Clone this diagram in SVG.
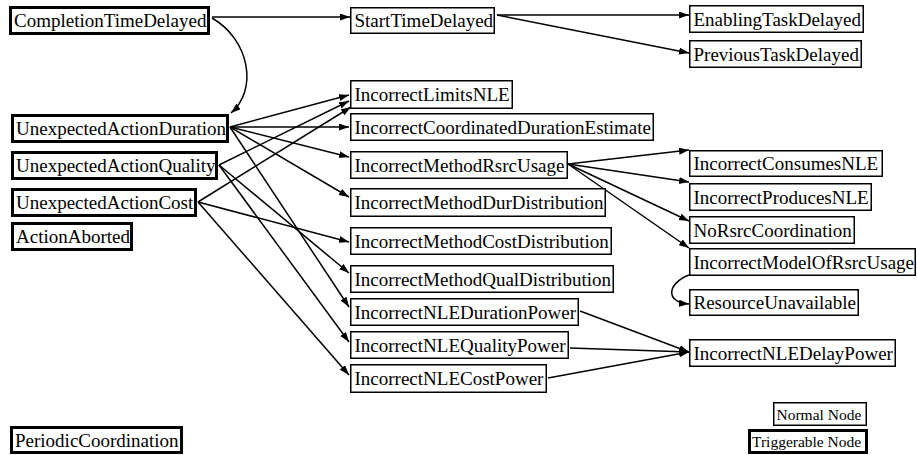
<svg xmlns="http://www.w3.org/2000/svg" width="917" height="455" viewBox="0 0 917 455">
<defs>
<marker id="ah" markerUnits="userSpaceOnUse" markerWidth="11" markerHeight="8" refX="10" refY="3.5" orient="auto">
<path d="M0,0 L10,3.5 L0,7 z" fill="#000"/>
</marker>
<style>
.n rect{fill:#fff;stroke:#000;stroke-width:1.5}
.t rect{fill:#fff;stroke:#000;stroke-width:3}
text{font-family:'Liberation Serif',serif;font-size:19px;fill:#000}
.s text{font-size:15.5px}
#edges path{fill:none;stroke:#000;stroke-width:1.5;marker-end:url(#ah)}
</style>
</defs>
<rect width="917" height="455" fill="#fff"/>
<g id="edges">
<path d="M212,17 L350,17"/>
<path d="M212,18 C250,40 258,90 231,113"/>
<path d="M497,15 L689,15"/>
<path d="M497,15 L689,53"/>
<path d="M230,127 L349,95"/>
<path d="M230,127 L349,127"/>
<path d="M230,127 L349,157"/>
<path d="M230,127 L349,197"/>
<path d="M230,127 L349,307"/>
<path d="M219,165 L349,101"/>
<path d="M219,165 L349,273"/>
<path d="M219,165 L349,342"/>
<path d="M198,202 L351,107"/>
<path d="M198,202 L349,242"/>
<path d="M198,202 L349,375"/>
<path d="M568,164 L689,150"/>
<path d="M568,164 L689,182"/>
<path d="M568,164 L689,221"/>
<path d="M568,164 L689,248"/>
<path d="M689,275 C668,283 664,302 689,304"/>
<path d="M580,311 L689,352"/>
<path d="M570,348 L689,352"/>
<path d="M548,378 L689,352"/>
</g>
<g font-family="Liberation Serif, serif">
<g id="CompletionTimeDelayed" class="t"><rect x="10.5" y="7.5" width="198" height="26"/><text x="14" y="27">CompletionTimeDelayed</text></g>
<g id="UnexpectedActionDuration" class="t"><rect x="12.5" y="115.5" width="215" height="26"/><text x="16" y="135">UnexpectedActionDuration</text></g>
<g id="UnexpectedActionQuality" class="t"><rect x="12.5" y="152.5" width="204" height="26"/><text x="16" y="172">UnexpectedActionQuality</text></g>
<g id="UnexpectedActionCost" class="t"><rect x="12.5" y="189.5" width="183" height="26"/><text x="16" y="209">UnexpectedActionCost</text></g>
<g id="ActionAborted" class="t"><rect x="12.5" y="223.5" width="119" height="26"/><text x="16" y="243">ActionAborted</text></g>
<g id="PeriodicCoordination" class="t"><rect x="11.5" y="427.5" width="170" height="25"/><text x="15" y="446.5">PeriodicCoordination</text></g>
<g id="StartTimeDelayed" class="n"><rect x="350.75" y="7.75" width="143.5" height="25.5"/><text x="354.5" y="27">StartTimeDelayed</text></g>
<g id="EnablingTaskDelayed" class="n"><rect x="689.75" y="5.75" width="173.5" height="26.5"/><text x="693.5" y="25.5">EnablingTaskDelayed</text></g>
<g id="PreviousTaskDelayed" class="n"><rect x="689.75" y="40.75" width="171.5" height="26.5"/><text x="693.5" y="60.5">PreviousTaskDelayed</text></g>
<g id="IncorrectLimitsNLE" class="n"><rect x="350.75" y="80.75" width="161.5" height="27.5"/><text x="354.5" y="101">IncorrectLimitsNLE</text></g>
<g id="IncorrectCoordinatedDurationEstimate" class="n"><rect x="350.75" y="113.75" width="302.5" height="26.5"/><text x="354.5" y="133.5">IncorrectCoordinatedDurationEstimate</text></g>
<g id="IncorrectMethodRsrcUsage" class="n"><rect x="350.75" y="151.75" width="216.5" height="26.5"/><text x="354.5" y="171.5">IncorrectMethodRsrcUsage</text></g>
<g id="IncorrectMethodDurDistribution" class="n"><rect x="350.75" y="188.75" width="254.5" height="27.5"/><text x="354.5" y="209">IncorrectMethodDurDistribution</text></g>
<g id="IncorrectMethodCostDistribution" class="n"><rect x="350.75" y="227.75" width="260.5" height="26.5"/><text x="354.5" y="247.5">IncorrectMethodCostDistribution</text></g>
<g id="IncorrectMethodQualDistribution" class="n"><rect x="350.75" y="265.75" width="262.5" height="26.5"/><text x="354.5" y="285.5">IncorrectMethodQualDistribution</text></g>
<g id="IncorrectNLEDurationPower" class="n"><rect x="350.75" y="298.75" width="227.5" height="26.5"/><text x="354.5" y="318.5">IncorrectNLEDurationPower</text></g>
<g id="IncorrectNLEQualityPower" class="n"><rect x="350.75" y="331.75" width="217.5" height="26.5"/><text x="354.5" y="351.5">IncorrectNLEQualityPower</text></g>
<g id="IncorrectNLECostPower" class="n"><rect x="350.75" y="364.75" width="195.5" height="27.5"/><text x="354.5" y="385">IncorrectNLECostPower</text></g>
<g id="IncorrectConsumesNLE" class="n"><rect x="689.75" y="150.75" width="192.5" height="25.5"/><text x="693.5" y="170">IncorrectConsumesNLE</text></g>
<g id="IncorrectProducesNLE" class="n"><rect x="689.75" y="183.75" width="181.5" height="26.5"/><text x="693.5" y="203.5">IncorrectProducesNLE</text></g>
<g id="NoRsrcCoordination" class="n"><rect x="689.75" y="216.75" width="164.5" height="26.5"/><text x="693.5" y="236.5">NoRsrcCoordination</text></g>
<g id="IncorrectModelOfRsrcUsage" class="n"><rect x="689.75" y="248.75" width="225.5" height="26.5"/><text x="693.5" y="268.5">IncorrectModelOfRsrcUsage</text></g>
<g id="ResourceUnavailable" class="n"><rect x="689.75" y="289.75" width="168.5" height="25.5"/><text x="693.5" y="309">ResourceUnavailable</text></g>
<g id="IncorrectNLEDelayPower" class="n"><rect x="689.75" y="339.75" width="205.5" height="26.5"/><text x="693.5" y="359.5">IncorrectNLEDelayPower</text></g>
<g id="NormalNode" class="n s"><rect x="773.75" y="402.75" width="92.5" height="22.5"/><text x="776.5" y="419.5">Normal Node</text></g>
<g id="TriggerableNode" class="t s"><rect x="749.5" y="430.5" width="117" height="22"/><text x="752" y="447">Triggerable Node</text></g>
</g>
</svg>
